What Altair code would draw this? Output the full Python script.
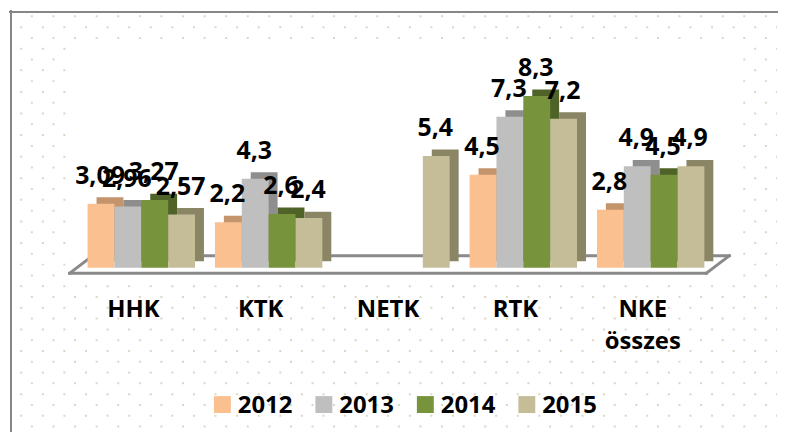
import altair as alt
import pandas as pd

categories = ["HHK", "KTK", "NETK", "RTK", "NKE összes"]
years = ["2012", "2013", "2014", "2015"]
v2012 = [3.09, 2.2, None, 4.5, 2.8]
v2013 = [2.96, 4.3, None, 7.3, 4.9]
v2014 = [3.27, 2.6, None, 8.3, 4.5]
v2015 = [2.57, 2.4, 5.4, 7.2, 4.9]
front_colors = ["#FAC090", "#BFBFBF", "#77933C", "#C4BD97"]
depth_colors = ["#C4946C", "#8E8E8E", "#4F6228", "#8A8564"]

rows = []
for yr, vals in zip(years, [v2012, v2013, v2014, v2015]):
    for c, v in zip(categories, vals):
        if v is not None:
            rows.append({"cat": c, "year": yr, "yr2": yr, "value": v,
                         "label": f"{v:g}".replace(".", ",")})
df = pd.DataFrame(rows)
cat_df = pd.DataFrame({"cat": categories})
year_df = pd.DataFrame({"year": years})
one = pd.DataFrame({"a": [0]})

FONT = "Open Sans"
xs = alt.Scale(domain=categories, range=[68, 708], paddingInner=0.156, paddingOuter=0.078)
ys = alt.Scale(domain=[0, 12], range=[258, 8.4], nice=False, zero=True)
ident = alt.Scale(domain=[0, 422], range=[0, 422], nice=False, zero=False)
color_scale = alt.Scale(domain=years, range=front_colors)

X = alt.X("cat:N", scale=xs, axis=None, sort=categories)
Y = alt.Y("value:Q", scale=ys, axis=None)

def XO(shift):
    return alt.XOffset("year:N", sort=years,
                       scale=alt.Scale(type="band", domain=years, range=[shift, 108 + shift],
                                       paddingInner=0, paddingOuter=0))

# decorative dotted background
def dot_rows(start, dash_off):
    return alt.Chart(alt.sequence(start, 39, 2, as_="i")).transform_calculate(
        yy="5.3 + datum.i * 10.85"
    ).mark_rule(strokeWidth=2, color="#DCD7C0", strokeDash=[2, 19.7],
                strokeDashOffset=dash_off).encode(
        x=alt.value(0), x2=alt.value(771),
        y=alt.Y("yy:Q", scale=ident, axis=None)
    )

dotsA = dot_rows(0, 0.7)
dotsB = dot_rows(1, 11.4)

white = alt.Chart(one).mark_rect(color="white").encode(
    x=alt.value(60), x2=alt.value(729), y=alt.value(32), y2=alt.value(269))

def seg(x1, y1, x2, y2, w=3, c="#8A8A8A"):
    return alt.Chart(one).mark_rule(strokeWidth=w, color=c, strokeCap="square").encode(
        x=alt.value(x1), y=alt.value(y1), x2=alt.value(x2), y2=alt.value(y2))

floor = (seg(60, 263.5, 700, 263.5) + seg(700, 263.5, 723, 246) +
         seg(723, 246, 83, 246) + seg(83, 246, 60, 263.5))

border = seg(0, 1, 771, 1, 2, "#868686") + seg(1, 0, 1, 422, 2, "#868686")

shadow = alt.Chart(df).mark_bar(yOffset=-6.5, y2Offset=-6.5).encode(
    x=X, xOffset=XO(9), y=Y,
    fill=alt.Fill("yr2:N", scale=alt.Scale(domain=years, range=depth_colors), legend=None)
)

bars = alt.Chart(df).mark_bar().encode(
    x=X, xOffset=XO(0), y=Y,
    color=alt.Color("year:N", scale=color_scale, legend=None)
)

labels = alt.Chart(df).mark_text(font=FONT, fontSize=25, fontWeight="bold",
                                 color="black", baseline="alphabetic", dy=-20, dx=-1).encode(
    x=X, xOffset=XO(0), y=Y, text="label:N"
)

cat_labels = alt.Chart(cat_df).mark_text(font=FONT, fontSize=24, fontWeight="bold",
                                         color="black", baseline="alphabetic", dx=-8,
                                         lineBreak=" ", lineHeight=33).encode(
    x=X, y=alt.value(307), text="cat:N"
)

# legend built from the colour scale
LX = alt.X("year:N", sort=years, axis=None,
           scale=alt.Scale(domain=years, range=[162.5, 570.5], paddingInner=0, paddingOuter=0))
leg_sym = alt.Chart(year_df).mark_square(size=289, opacity=1).encode(
    x=LX, y=alt.value(395.5), color=alt.Color("year:N", scale=color_scale, legend=None)
)
leg_txt = alt.Chart(year_df).mark_text(font=FONT, fontSize=24, fontWeight="bold",
                                       color="black", align="left", baseline="alphabetic",
                                       dx=15.5).encode(
    x=LX, y=alt.value(404), text="year:N"
)

chart = alt.layer(dotsA, dotsB, white, floor, shadow, bars, labels, cat_labels,
                  leg_sym, leg_txt, border).resolve_scale(
    x="independent", y="independent", xOffset="independent"
).properties(width=771, height=422, padding=0, background="white").configure_view(stroke=None)

chart.save("out.html", embed_options={"renderer": "svg", "actions": False})
